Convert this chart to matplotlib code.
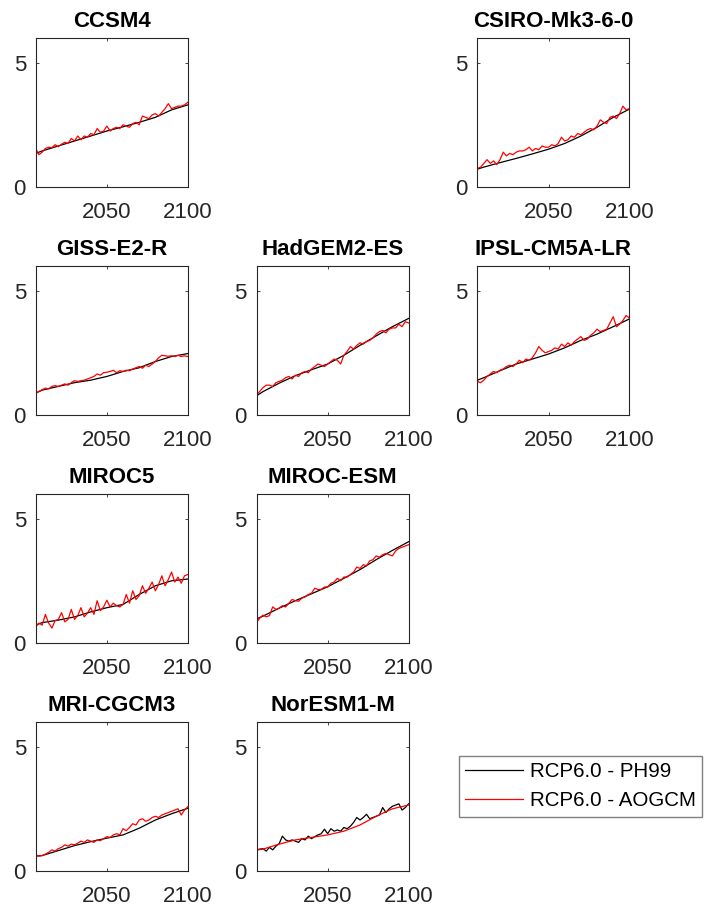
import matplotlib

matplotlib.use('Agg')

import matplotlib.pyplot as plt
import numpy as np

matplotlib.rcParams.update({'font.family': 'Liberation Sans', 'font.size': 16})

# decadal years for the smooth series, 2-yearly for the noisy ones
yrs_dec = [2006, 2010, 2020, 2030, 2040, 2050, 2060, 2070, 2080, 2090, 2100]
yrs_2 = list(range(2006, 2101, 2))

models = ['CCSM4', None, 'CSIRO-Mk3-6-0',
          'GISS-E2-R', 'HadGEM2-ES', 'IPSL-CM5A-LR',
          'MIROC5', 'MIROC-ESM', None,
          'MRI-CGCM3', 'NorESM1-M', None]

# RCP6.0 - PH99 (black)
ph99_CCSM4 = [1.35, 1.45, 1.65, 1.85, 2.05, 2.25, 2.42, 2.6, 2.8, 3.1, 3.3]
ph99_CSIRO = [0.72, 0.8, 0.98, 1.15, 1.33, 1.52, 1.75, 2.05, 2.4, 2.8, 3.13]
ph99_GISS = [0.88, 1.0, 1.15, 1.3, 1.4, 1.55, 1.75, 1.9, 2.15, 2.35, 2.47]
ph99_HadGEM = [0.77, 0.94, 1.28, 1.58, 1.82, 2.05, 2.4, 2.8, 3.18, 3.55, 3.88]
ph99_IPSL = [1.4, 1.5, 1.78, 2.05, 2.25, 2.45, 2.7, 3.0, 3.25, 3.55, 3.86]
ph99_MIROC5 = [0.72, 0.82, 0.92, 1.05, 1.25, 1.42, 1.55, 1.95, 2.3, 2.5, 2.57]
ph99_MIROCESM = [0.97, 1.08, 1.4, 1.7, 1.98, 2.26, 2.6, 2.95, 3.35, 3.72, 4.07]
ph99_MRI = [0.6, 0.62, 0.82, 1.02, 1.18, 1.32, 1.45, 1.72, 2.05, 2.3, 2.52]
ph99_NorESM = [0.85, 0.88, 0.9, 0.8, 0.95, 0.85, 1.0, 1.1, 1.4, 1.25, 1.2, 1.25,
               1.2, 1.15, 1.3, 1.25, 1.4, 1.3, 1.38, 1.45, 1.5, 1.68, 1.5, 1.7,
               1.6, 1.65, 1.6, 1.75, 1.7, 1.8, 1.95, 2.15, 2.05, 2.15, 2.28, 2.1,
               2.15, 2.2, 2.25, 2.55, 2.35, 2.5, 2.6, 2.65, 2.7, 2.45, 2.55, 2.7]

# RCP6.0 - AOGCM (red)
gcm_CCSM4 = [1.55, 1.3, 1.4, 1.55, 1.6, 1.58, 1.7, 1.62, 1.72, 1.8, 1.75, 1.95,
             1.85, 2.05, 1.9, 2.05, 2.0, 2.15, 2.1, 2.35, 2.2, 2.25, 2.45, 2.25,
             2.35, 2.4, 2.35, 2.5, 2.45, 2.4, 2.55, 2.6, 2.5, 2.85, 2.8, 2.75,
             2.9, 2.95, 2.85, 3.0, 3.15, 3.35, 3.15, 3.2, 3.25, 3.25, 3.3, 3.4]
gcm_CSIRO = [0.75, 0.8, 0.95, 1.1, 0.95, 1.05, 0.9, 1.1, 1.4, 1.25, 1.35, 1.3,
             1.4, 1.45, 1.45, 1.5, 1.6, 1.45, 1.55, 1.5, 1.65, 1.6, 1.6, 1.7,
             1.65, 1.75, 2.0, 1.85, 1.9, 2.05, 2.0, 2.15, 2.1, 2.2, 2.3, 2.35,
             2.3, 2.45, 2.7, 2.6, 2.55, 2.8, 2.85, 2.75, 2.95, 3.25, 3.1, 3.15]
gcm_GISS = [0.88, 0.95, 1.02, 1.08, 1.05, 1.15, 1.18, 1.15, 1.2, 1.25, 1.2, 1.3,
            1.38, 1.35, 1.38, 1.4, 1.45, 1.5, 1.55, 1.65, 1.6, 1.7, 1.72, 1.75,
            1.8, 1.7, 1.78, 1.75, 1.8, 1.78, 1.85, 1.9, 1.95, 1.88, 2.0, 1.95,
            2.05, 2.15, 2.3, 2.4, 2.38, 2.36, 2.38, 2.35, 2.4, 2.35, 2.38, 2.35]
gcm_HadGEM = [0.8, 0.95, 1.1, 1.2, 1.2, 1.15, 1.3, 1.35, 1.4, 1.5, 1.55, 1.45,
              1.6, 1.55, 1.7, 1.75, 1.7, 1.85, 1.95, 2.05, 2.0, 1.95, 2.05, 2.15,
              2.25, 2.2, 2.05, 2.4, 2.55, 2.75, 2.65, 2.8, 2.9, 2.85, 2.95, 3.0,
              3.1, 3.25, 3.35, 3.4, 3.3, 3.45, 3.5, 3.5, 3.65, 3.55, 3.75, 3.7]
gcm_IPSL = [1.35, 1.3, 1.4, 1.55, 1.65, 1.75, 1.7, 1.8, 1.85, 1.95, 2.0, 1.95,
            2.05, 2.2, 2.1, 2.25, 2.2, 2.3, 2.5, 2.75, 2.6, 2.5, 2.55, 2.6,
            2.7, 2.65, 2.85, 2.75, 2.9, 2.8, 2.95, 3.05, 3.15, 3.0, 3.05, 3.2,
            3.3, 3.45, 3.35, 3.4, 3.45, 3.7, 3.95, 3.55, 3.65, 3.8, 4.0, 3.9]
gcm_MIROC5 = [0.65, 0.8, 0.72, 1.15, 0.8, 0.6, 0.9, 0.95, 1.22, 0.85, 0.95, 1.35,
              0.95, 1.1, 1.42, 1.05, 1.2, 1.42, 1.15, 1.7, 1.3, 1.45, 1.72, 1.45,
              1.6, 1.5, 1.45, 1.55, 1.95, 1.6, 2.1, 1.75, 1.9, 2.3, 2.0, 2.2,
              2.45, 2.1, 2.35, 2.7, 2.3, 2.55, 2.85, 2.45, 2.65, 2.4, 2.7, 2.75]
gcm_MIROCESM = [0.82, 1.0, 1.12, 1.05, 1.1, 1.45, 1.35, 1.4, 1.5, 1.45, 1.6, 1.75,
                1.7, 1.68, 1.8, 1.85, 1.95, 2.0, 2.2, 2.15, 2.15, 2.25, 2.25, 2.4,
                2.45, 2.6, 2.5, 2.65, 2.65, 2.75, 2.85, 3.05, 3.0, 3.15, 3.1, 3.3,
                3.35, 3.5, 3.45, 3.55, 3.6, 3.55, 3.5, 3.7, 3.8, 3.85, 3.9, 3.95]
gcm_MRI = [0.65, 0.6, 0.62, 0.68, 0.75, 0.85, 0.8, 0.9, 0.95, 1.05, 1.0, 1.08,
           1.05, 1.12, 1.2, 1.15, 1.25, 1.2, 1.15, 1.25, 1.22, 1.3, 1.38, 1.35,
           1.45, 1.5, 1.45, 1.7, 1.62, 1.75, 1.9, 1.85, 2.05, 2.1, 2.0, 2.05,
           2.15, 2.2, 2.15, 2.25, 2.3, 2.35, 2.4, 2.45, 2.5, 2.25, 2.45, 2.58]
gcm_NorESM = [0.84, 0.88, 1.08, 1.25, 1.35, 1.45, 1.6, 1.85, 2.2, 2.5, 2.65]

series = {
    'CCSM4': (yrs_dec, ph99_CCSM4, yrs_2, gcm_CCSM4),
    'CSIRO-Mk3-6-0': (yrs_dec, ph99_CSIRO, yrs_2, gcm_CSIRO),
    'GISS-E2-R': (yrs_dec, ph99_GISS, yrs_2, gcm_GISS),
    'HadGEM2-ES': (yrs_dec, ph99_HadGEM, yrs_2, gcm_HadGEM),
    'IPSL-CM5A-LR': (yrs_dec, ph99_IPSL, yrs_2, gcm_IPSL),
    'MIROC5': (yrs_dec, ph99_MIROC5, yrs_2, gcm_MIROC5),
    'MIROC-ESM': (yrs_dec, ph99_MIROCESM, yrs_2, gcm_MIROCESM),
    'MRI-CGCM3': (yrs_dec, ph99_MRI, yrs_2, gcm_MRI),
    'NorESM1-M': (yrs_2, ph99_NorESM, yrs_dec, gcm_NorESM),
}

axc = '#262626'

fig, axes = plt.subplots(4, 3, figsize=(7.04, 9.11), dpi=100)
fig.subplots_adjust(left=0.0507, right=0.894, top=0.9586, bottom=0.0439,
                    wspace=0.4526, hspace=0.527)

for ax, name in zip(axes.flat, models):
    if name is None:
        ax.axis('off')
        continue
    xb, yb, xr, yr = series[name]
    hb, = ax.plot(xb, yb, color='k', lw=0.9)
    hr, = ax.plot(xr, yr, color='#ff0000', lw=0.9)
    ax.set_xlim(2006, 2100)
    ax.set_ylim(0, 6)
    ax.set_xticks([2050, 2100])
    ax.set_yticks([0, 5])
    ax.set_title(name, fontsize=16, fontweight='bold', pad=8)
    ax.tick_params(direction='in', top=True, right=True, length=2.5,
                   width=0.6, colors=axc, labelsize=16)
    ax.tick_params('x', pad=11)
    ax.tick_params('y', pad=7)
    for s in ax.spines.values():
        s.set_color(axc)
        s.set_linewidth(0.8)

leg = fig.legend([hb, hr], ['RCP6.0 - PH99', 'RCP6.0 - AOGCM'],
                 loc='upper left', bbox_to_anchor=(459 / 704, 1 - 756 / 911),
                 borderaxespad=0, fontsize=14.8, handlelength=2.8,
                 handletextpad=0.35, borderpad=0.3, labelspacing=0.5,
                 fancybox=False, framealpha=1, edgecolor='#808080')
leg.get_frame().set_linewidth(1.0)

plt.savefig('out.png', dpi=100)
plt.close(fig)
